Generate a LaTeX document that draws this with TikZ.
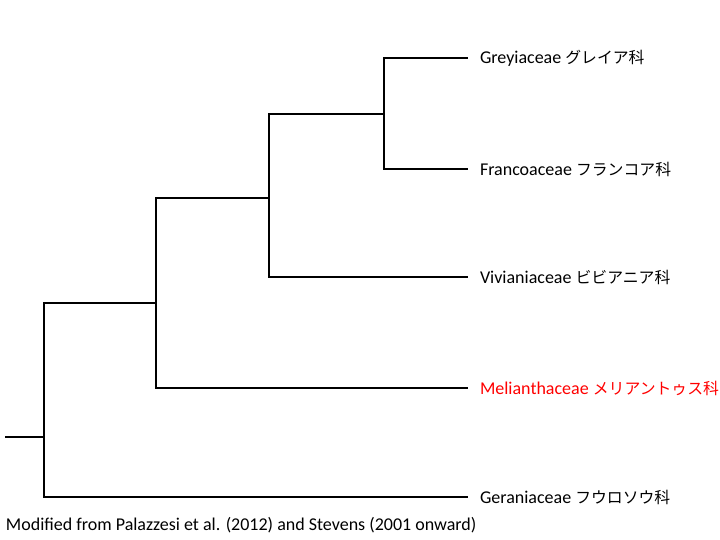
\documentclass[tikz,border=0pt]{standalone}
\usepackage{fontspec}
\setmainfont{Carlito}
\newfontfamily\jp[Scale=0.88]{Noto Sans CJK JP}
\usetikzlibrary{positioning}
\begin{document}
\begin{tikzpicture}[x=1pt, y=-1pt, line width=1.9pt,
		inner/.style = {inner sep=0pt, minimum size=0pt},
		taxon/.style = {anchor=west, inner xsep=0pt, outer xsep=12pt, font=\fontsize{18}{20}\selectfont},
		caption/.style = {anchor=west, inner sep=0pt, font=\fontsize{18}{20}\selectfont}]
		
		\useasboundingbox (0,0) rectangle (720,540);
		
		% internal nodes
		\coordinate (r) at (5,437);
		\node[inner] (n1) at (44,437) {};
		\node[inner] (n2) at (156,303) {};
		\node[inner] (n3) at (269,198) {};
		\node[inner] (n4) at (384,114) {};
		
		% tips
		\node[taxon] (greyi) at (468,58) {Greyiaceae {\jp グレイア科}};
		\node[taxon] (franc) at (468,169) {Francoaceae {\jp フランコア科}};
		\node[taxon] (vivia) at (468,277) {Vivianiaceae {\jp ビビアニア科}};
		\node[taxon, text=red] (melia) at (468,388) {Melianthaceae {\jp メリアントゥス科}};
		\node[taxon] (geran) at (468,497) {Geraniaceae {\jp フウロソウ科}};
		
		\draw (r) -- (n1.center);
		\draw (n1.center) |- (n2.center);
		\draw (n1.center) |- (geran.west);
		\draw (n2.center) |- (n3.center);
		\draw (n2.center) |- (melia.west);
		\draw (n3.center) |- (n4.center);
		\draw (n3.center) |- (vivia.west);
		\draw (n4.center) |- (greyi.west);
		\draw (n4.center) |- (franc.west);
		
		\node[caption] (src) at (5,525) {Modified from Palazzesi et al. (2012) and Stevens (2001 onward)};
	
\end{tikzpicture}
\end{document}
